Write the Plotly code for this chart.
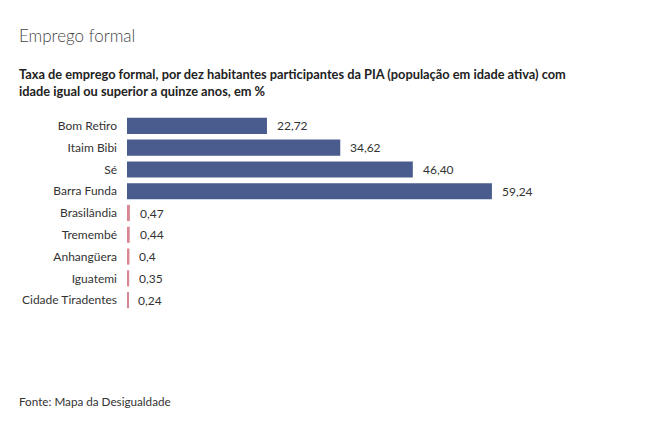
import plotly.graph_objects as go

# dados
bairros = ['Bom Retiro', 'Itaim Bibi', 'Sé', 'Barra Funda', 'Brasilândia',
           'Tremembé', 'Anhangüera', 'Iguatemi', 'Cidade Tiradentes']
valores = [22.72, 34.62, 46.40, 59.24, 0.47, 0.44, 0.4, 0.35, 0.24]
rotulos = ['22,72', '34,62', '46,40', '59,24', '0,47', '0,44', '0,4', '0,35', '0,24']
cores = ['#4a5b8e'] * 4 + ['#d98793'] * 5

fnt = 'Lato, "Source Sans Pro", sans-serif'

# tamanho da figura (a página tem 8px de margem no body)
W, H = 630, 409
ML, MT, MB = 119, 107, 106
PW = W - ML
PH = H - MT - MB

fig = go.Figure()
fig.add_trace(go.Bar(
    x=valores, y=bairros, orientation='h',
    marker=dict(color=cores, line=dict(width=0)),
    hoverinfo='skip',
))

for b, v, r in zip(bairros, valores, rotulos):
    fig.add_annotation(x=v, y=b, text=r, showarrow=False,
                       xanchor='left', xshift=8,
                       font=dict(family=fnt, size=12, color='#333'))

fig.add_annotation(text='Emprego formal', xref='paper', yref='paper',
                   x=-(ML - 9) / PW, y=1 + (MT - 27) / PH,
                   xanchor='left', yanchor='middle', showarrow=False,
                   font=dict(family=fnt, size=17, color='#444', weight=300))
fig.add_annotation(text='<b>Taxa de emprego formal, por dez habitantes participantes da PIA (população em idade ativa) com'
                        '<br>idade igual ou superior a quinze anos, em %</b>',
                   xref='paper', yref='paper',
                   x=-(ML - 9) / PW, y=1 + (MT - 74) / PH,
                   xanchor='left', yanchor='middle', align='left', showarrow=False,
                   font=dict(family=fnt, size=12.8, color='#222'))
fig.add_annotation(text='Fonte: Mapa da Desigualdade', xref='paper', yref='paper',
                   x=-(ML - 9) / PW, y=-(393 - (H - MB)) / PH,
                   xanchor='left', yanchor='middle', showarrow=False,
                   font=dict(family=fnt, size=11.7, color='#333'))

fig.update_layout(
    width=W, height=H,
    margin=dict(l=ML, r=0, t=MT, b=MB),
    paper_bgcolor='white', plot_bgcolor='white',
    bargap=0.26,
    showlegend=False,
    font=dict(family=fnt, size=12, color='#333'),
    xaxis=dict(range=[0, PW / 6.16], visible=False),
    yaxis=dict(autorange='reversed', showgrid=False, showline=False,
               zeroline=False, ticks='', ticklabelstandoff=9,
               tickfont=dict(family=fnt, size=12, color='#333')),
)

fig.write_html('out.html')
